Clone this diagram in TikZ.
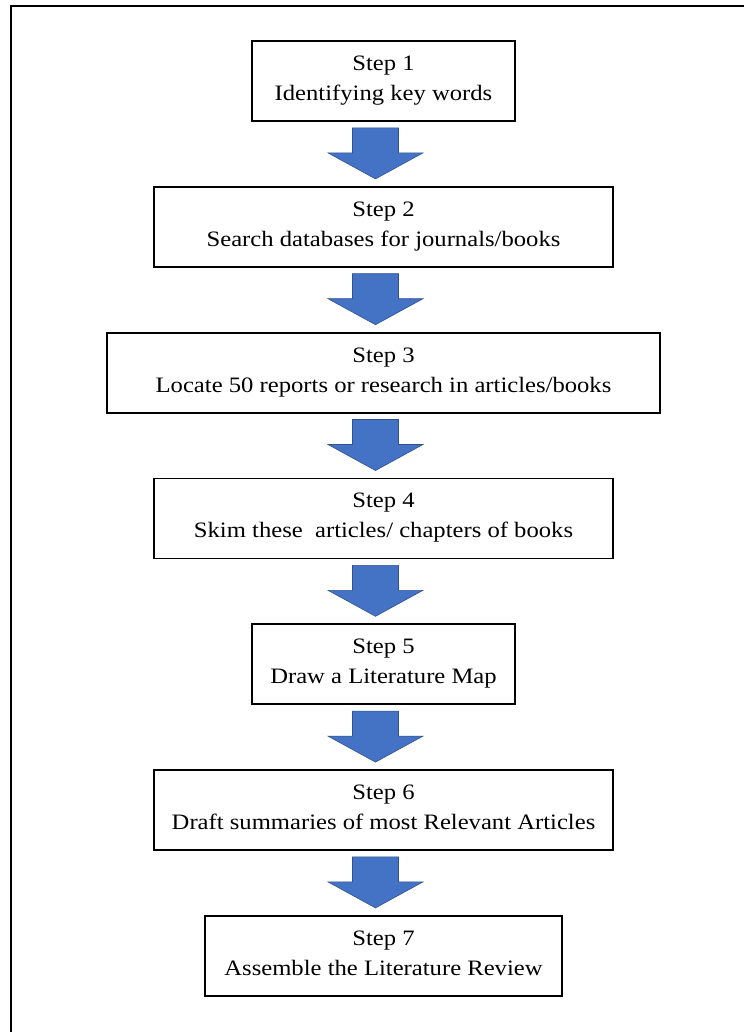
\documentclass[tikz,border=0pt]{standalone}
\usepackage{fontspec}
\setmainfont{Liberation Serif}[FakeStretch=1.12]

\definecolor{arrowblue}{HTML}{4472C4}
\definecolor{arrowedge}{HTML}{2F528F}

\begin{document}
\begin{tikzpicture}[
    x=1pt, y=-1pt,
    font=\fontsize{22}{30}\selectfont,
    box/.style={
        draw=black, line width=1.8pt, align=center, inner sep=0pt,
        minimum height=80pt, fill=white,
        execute at begin node={\rule{0pt}{24.7pt}},
        execute at end node={\rule[-5.5pt]{0pt}{5.5pt}}
    },
    frame/.style={draw=black, line width=2pt},
    blockarrow/.pic={
        \draw[fill=arrowblue, draw=arrowedge, line width=0.6pt]
            (-23,0) -- (23,0) -- (23,25) -- (47.5,25) -- (0,51)
            -- (-47.5,25) -- (-23,25) -- cycle;
    },
]
\useasboundingbox (0,0) rectangle (744,1032);
% ---------- outer frame (open at right and bottom) ----------
\draw[frame] (11,1032) -- (11,6.5) -- (744,6.5);
% ---------- steps ----------
\node[box, minimum width=263pt] (step1) at (383.5, 81.0)  {Step 1\\Identifying key words};
\node[box, minimum width=459pt] (step2) at (383.5, 226.8) {Step 2\\Search databases for journals/books};
\node[box, minimum width=553pt] (step3) at (383.5, 372.6) {Step 3\\Locate 50 reports or research in articles/books};
\node[box, minimum width=459pt] (step4) at (383.5, 518.4) {Step 4\\Skim these\ \ articles/ chapters of books};
\node[box, minimum width=263pt] (step5) at (383.5, 664.2) {Step 5\\Draw a Literature Map};
\node[box, minimum width=459pt] (step6) at (383.5, 810.0) {Step 6\\Draft summaries of most Relevant Articles};
\node[box, minimum width=357pt] (step7) at (383.5, 955.8) {Step 7\\Assemble the Literature Review};
% ---------- block arrows between steps ----------
\pic at ([xshift=-8pt, yshift=-6pt]step1.south) {blockarrow};
\pic at ([xshift=-8pt, yshift=-6pt]step2.south) {blockarrow};
\pic at ([xshift=-8pt, yshift=-6pt]step3.south) {blockarrow};
\pic at ([xshift=-8pt, yshift=-6pt]step4.south) {blockarrow};
\pic at ([xshift=-8pt, yshift=-6pt]step5.south) {blockarrow};
\pic at ([xshift=-8pt, yshift=-6pt]step6.south) {blockarrow};
\end{tikzpicture}
\end{document}
